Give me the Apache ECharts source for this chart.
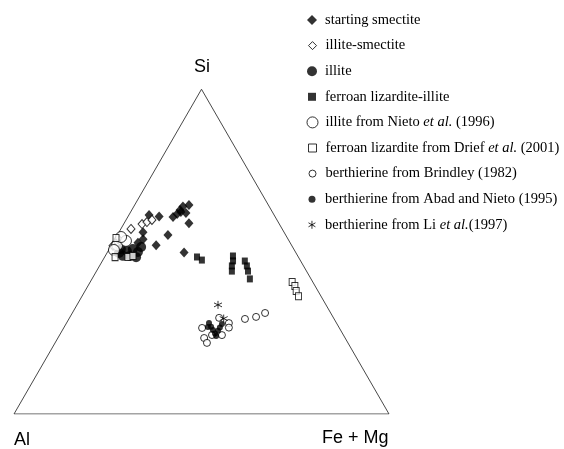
<!DOCTYPE html>
<html><head><meta charset="utf-8">
<script src="https://cdn.jsdelivr.net/npm/echarts@6/dist/echarts.min.js"></script>
<style>html,body{margin:0;padding:0;background:#fff}#c{width:564px;height:449px}</style>
</head><body><div id="c"></div>
<script>
// Compositions as [Si, Al, Fe+Mg] (relative %)
const seriesNames = [
  'starting smectite',
  'illite-smectite',
  'illite',
  'ferroan lizardite-illite',
  'illite from Nieto et al. (1996)',
  'ferroan lizardite from Drief et al. (2001)',
  'berthierine from Brindley (1982)',
  'berthierine from Abad and Nieto (1995)',
  'berthierine from Li et al.(1997)'
];
const startingSmectite = [[61.3,33.4,5.4],[60.8,30.9,8.3],[60.7,27.3,12.1],[61.6,25.7,12.7],[62.8,24.3,12.9],[63.9,23.0,13.1],[64.4,21.2,14.5],[62.2,24.4,13.4],[61.9,23.2,14.9],[58.7,24.0,17.3],[55.1,31.4,13.5],[52.0,36.1,11.9],[49.7,29.8,20.5],[56.0,37.6,6.4],[53.9,38.7,7.5],[52.7,40.6,6.7]];
const illiteSmectite = [[57.0,40.3,2.7],[58.5,36.6,4.9],[59.1,35.0,5.9],[59.7,33.3,6.9],[53.9,45.3,0.8],[51.7,47.6,0.5]];
const illite = [[50.8,46.1,3.1],[50.2,44.8,5.0],[50.8,42.9,6.3],[49.9,42.0,8.1],[48.7,46.6,4.7],[48.7,44.8,6.6],[48.3,43.3,8.4],[49.6,47.2,3.2],[51.4,40.4,8.2]];
const ferroanLizarditeIllite = [[48.3,27.0,24.6],[47.4,26.2,26.4],[48.7,17.3,34.1],[47.1,18.0,34.8],[45.6,19.1,35.3],[44.0,19.9,36.1],[47.1,14.9,38.0],[45.6,15.1,39.3],[44.0,15.6,40.4],[41.6,16.3,42.1]];
const illiteNieto = [[52.0,46.5,1.5],[53.3,43.5,3.2],[50.5,48.1,1.4],[54.5,44.2,1.3]];
const ferroanLizarditeDrief = [[40.6,5.5,53.8],[39.4,5.4,55.2],[37.9,5.8,56.3],[36.3,6.0,57.8],[48.3,48.9,2.8],[48.3,45.4,6.2],[48.7,44.0,7.4],[54.2,45.7,0.1]];
const berthierineBrindley = [[29.6,30.5,39.9],[26.5,36.6,36.9],[23.4,37.6,39.0],[21.9,37.6,40.5],[24.3,35.0,40.6],[24.3,32.4,43.3],[28.0,28.7,43.3],[26.6,29.4,44.0],[29.3,23.8,47.0],[29.9,20.5,49.6],[31.1,17.5,51.4]];
const berthierineAbad = [[28.0,34.0,38.0],[26.9,34.0,39.1],[25.9,34.0,40.1],[24.8,34.0,41.2],[25.6,32.8,41.6],[26.6,31.8,41.6],[27.7,30.7,41.6],[26.8,34.9,38.3],[24.0,34.1,41.9]];
const berthierineLi = [[33.6,28.8,37.6],[29.3,29.3,41.1]];
const vertices = [[100,0,0],[0,100,0],[0,0,100],[100,0,0]];
const vertexLabels = ['Si','Al','Fe + Mg'];

const H = Math.sqrt(3)/2;
function toXY(p){ const s=p[0]+p[1]+p[2]; const si=p[0]/s, fm=p[2]/s; return [fm+si/2, si*H]; }

const astPath = 'path://M5,0L5,10M0.67,2.5L9.33,7.5M0.67,7.5L9.33,2.5';
const filled = {color:'#000', borderColor:'#000', borderWidth:0};
const hollow = {color:'#fff', borderColor:'#000', borderWidth:1};
const styles = [
  {data:startingSmectite, symbol:'diamond', size:[9,10], item:filled, icon:'diamond', iw:10},
  {data:illiteSmectite, symbol:'diamond', size:[8,9], item:hollow, icon:'diamond', iw:8},
  {data:illite, symbol:'circle', size:10, item:filled, icon:'circle', iw:10},
  {data:ferroanLizarditeIllite, symbol:'rect', size:[6,7], item:filled, icon:'rect', iw:8},
  {data:illiteNieto, symbol:'circle', size:11, item:hollow, icon:'circle', iw:11},
  {data:ferroanLizarditeDrief, symbol:'rect', size:[6,7], item:hollow, icon:'rect', iw:8},
  {data:berthierineBrindley, symbol:'circle', size:7, item:hollow, icon:'circle', iw:7},
  {data:berthierineAbad, symbol:'circle', size:6, item:filled, icon:'circle', iw:7},
  {data:berthierineLi, symbol:astPath, size:8, item:{color:'#000',borderColor:'#000',borderWidth:1}, icon:astPath, iw:8}
];

const GL=14, GW=375, GB=414, GHt=GW*H;
const series = [{
  type:'line', data: vertices.map(toXY), symbol:'none', silent:true,
  lineStyle:{color:'#333', width:0.9}, z:1
}];
styles.forEach((st,i)=>{
  series.push({
    type:'scatter', name: seriesNames[i], data: st.data.map(toXY),
    symbol: st.symbol, symbolSize: st.size, itemStyle: st.item, z:2+i
  });
});

const rowC0 = 20, rowStep = 25.6;
const legends = styles.map((st,i)=>({
  show:true, orient:'vertical', padding:0,
  left: 312 - st.iw/2, top: rowC0 + i*rowStep - 8,
  itemWidth: st.iw, itemHeight: st.iw, itemGap: 0,
  selectedMode:false,
  data:[{name: seriesNames[i], icon: st.icon, itemStyle: st.item}],
  formatter: n => n.replace('et al.', '{i|et al.}'),
  textStyle:{fontFamily:'Liberation Serif', fontSize:14.5, color:'#000', lineHeight:16,
    padding:[0,0,0, 325 - (312 + st.iw/2 + 5)],
    rich:{i:{fontFamily:'Liberation Serif', fontSize:14.5, fontStyle:'italic', color:'#000'}}}
}));

const chart = echarts.init(document.getElementById('c'), null, {renderer:'canvas'});
chart.setOption({
  animation:false,
  backgroundColor:'#fff',
  grid:{left:GL, width:GW, top:GB-GHt, height:GHt},
  xAxis:{type:'value', min:0, max:1, show:false},
  yAxis:{type:'value', min:0, max:H, show:false},
  legend: legends,
  series: series,
  graphic:[
    {type:'text', left:194, top:58, style:{text:vertexLabels[0], font:'18px "Liberation Sans"', fill:'#000'}},
    {type:'text', left:14, top:431, style:{text:vertexLabels[1], font:'18px "Liberation Sans"', fill:'#000'}},
    {type:'text', left:322, top:429, style:{text:vertexLabels[2], font:'18px "Liberation Sans"', fill:'#000'}}
  ]
});
</script></body></html>
